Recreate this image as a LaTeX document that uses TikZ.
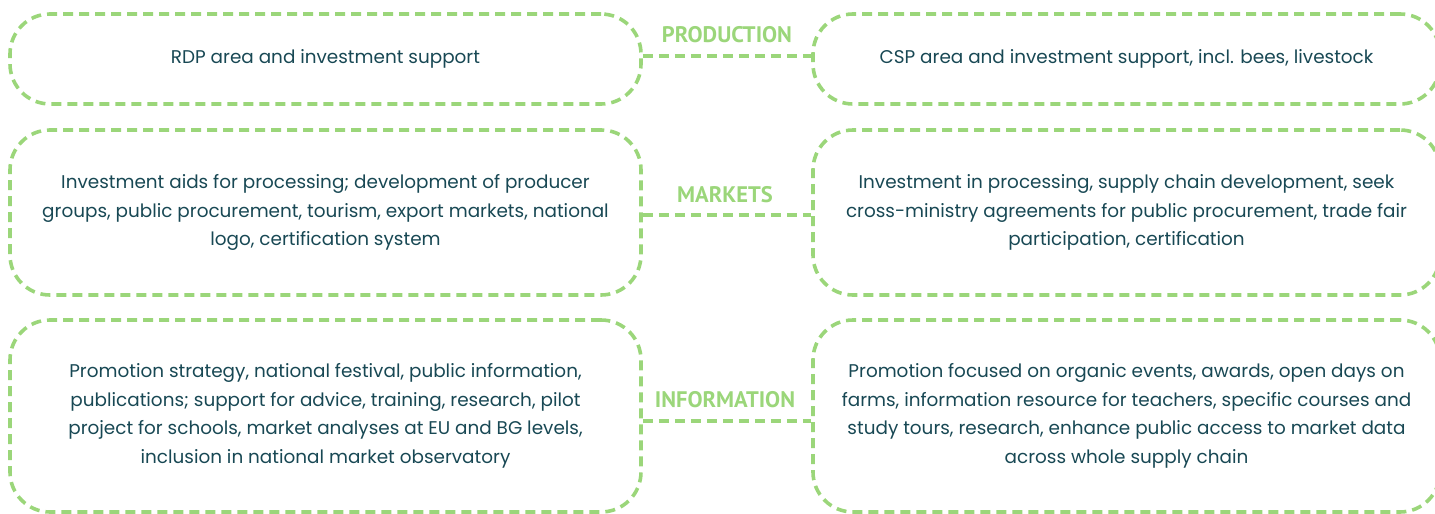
\documentclass[tikz,border=0pt]{standalone}
\usepackage{fontspec}
\setmainfont{Poppins}
\newfontfamily\labelfont{PT Sans}
\definecolor{boxgreen}{RGB}{155,214,122}
\definecolor{textteal}{RGB}{24,72,84}
\begin{document}
\begin{tikzpicture}[x=1pt,y=-1pt,
  box/.style={draw=boxgreen, line width=3.6pt, dash pattern=on 10pt off 6pt,
    rounded corners=40pt, align=center, text=textteal,
    font=\fontsize{18.4}{28.6}\selectfont, inner sep=0pt},
  conn/.style={draw=boxgreen, line width=3.6pt, dash pattern=on 10pt off 6pt},
  lab/.style={text=boxgreen, font=\labelfont\bfseries\fontsize{22.5}{24}\selectfont, inner sep=0pt}]
\useasboundingbox (0,0) rectangle (1435,514);
\node[box, minimum width=631pt, minimum height=90pt] (L1) at (325.5,59) {RDP area and investment support};
\node[box, minimum width=627pt, minimum height=90pt] (R1) at (1126.5,59) {CSP area and investment support, incl. bees, livestock};
\node[box, minimum width=631pt, minimum height=165pt] (L2) at (325.5,212.5) {Investment aids for processing; development of producer\\groups, public procurement, tourism, export markets, national\\logo, certification system};
\node[box, minimum width=627pt, minimum height=165pt] (R2) at (1126.5,212.5) {Investment in processing, supply chain development, seek\\cross-ministry agreements for public procurement, trade fair\\participation, certification};
\node[box, minimum width=631pt, minimum height=192pt] (L3) at (325.5,416) {Promotion strategy, national festival, public information,\\publications; support for advice, training, research, pilot\\project for schools, market analyses at EU and BG levels,\\inclusion in national market observatory};
\node[box, minimum width=627pt, minimum height=192pt] (R3) at (1126.5,416) {Promotion focused on organic events, awards, open days on\\farms, information resource for teachers, specific courses and\\study tours, research, enhance public access to market data\\across whole supply chain};
\draw[conn] (L1.east |- 0,56) coordinate (c1a) -- (R1.west |- 0,56) coordinate (c1b);
\draw[conn] (L2.east |- 0,215) coordinate (c2a) -- (R2.west |- 0,215) coordinate (c2b);
\draw[conn] (L3.east |- 0,421) coordinate (c3a) -- (R3.west |- 0,421) coordinate (c3b);
\node[lab] (P) at (727,35) {PRODUCTION};
\node[lab] (M) at (725,195) {MARKETS};
\node[lab] (I) at (725,400) {INFORMATION};
\end{tikzpicture}
\end{document}
